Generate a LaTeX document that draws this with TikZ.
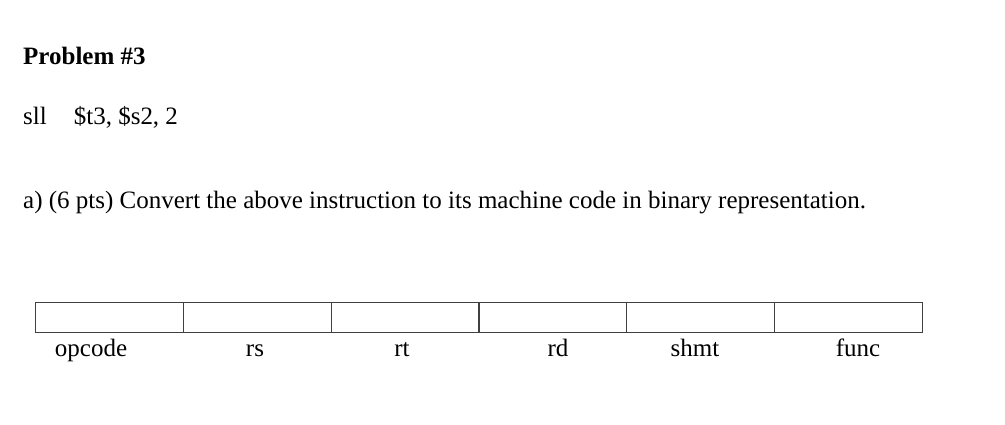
\documentclass[tikz,border=0pt]{standalone}
\usepackage{fontspec}
\setmainfont{Liberation Serif}
\begin{document}
\begin{tikzpicture}[x=1pt,y=-1pt,
  txt/.style={inner sep=0pt,anchor=base west,font=\fontsize{25}{28}\selectfont},
  lab/.style={inner sep=0pt,anchor=base,font=\fontsize{25}{28}\selectfont},
  cell/.style={draw=black!75,line width=1pt,minimum height=30pt,minimum width=148pt,inner sep=0pt,anchor=north west}]
\useasboundingbox (0,0) rectangle (1005,425);
\node[txt,font=\bfseries\fontsize{25}{28}\selectfont] (t1) at (23,65) {Problem \#3};
\node[txt] (t2) at (23,125) {sll\hspace{27pt}\$t3, \$s2, 2};
\node[txt] (t3) at (23,209) {a) (6 pts) Convert the above instruction to its machine code in binary representation.};
\foreach \i in {0,...,5}{ \node[cell] (c\i) at ({35+147.83*\i},302) {}; }
\node[lab] (l0) at (91,356) {opcode};
\node[lab] (l1) at (255,356) {rs};
\node[lab] (l2) at (402,356) {rt};
\node[lab] (l3) at (558,356) {rd};
\node[lab] (l4) at (695,356) {shmt};
\node[lab] (l5) at (858,356) {func};
\end{tikzpicture}
\end{document}
